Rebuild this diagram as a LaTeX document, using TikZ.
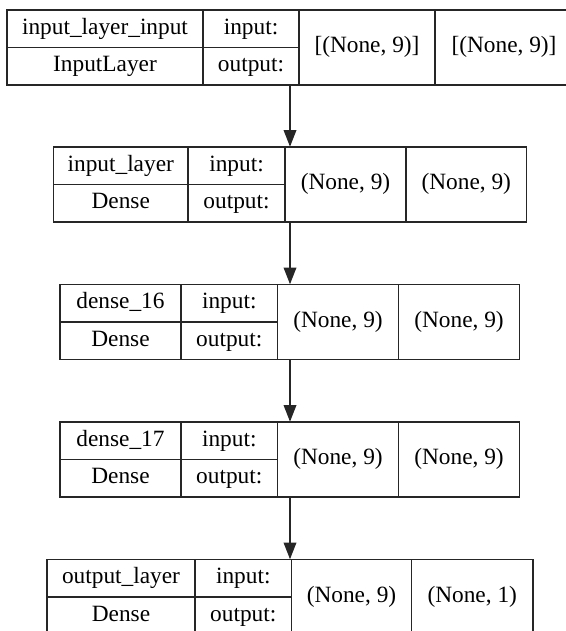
\documentclass[tikz,border=0pt]{standalone}
\usepackage{fontspec}
\setmainfont{Liberation Serif}
\usetikzlibrary{arrows.meta}

\tikzset{
  cell/.style={draw=black!85, line width=1pt, inner sep=0pt, outer sep=0pt,
               text height=11.8pt, text depth=3.6pt},
  flow/.style={draw=black!85, line width=1pt, -{Triangle[length=12.5pt,width=9.5pt]}}
}

\begin{document}
\begin{tikzpicture}[x=0.75pt, y=-0.75pt, font=\fontsize{17.5}{20}\selectfont]
\useasboundingbox (0,0) rectangle (566,631);
% one row of cells per layer: name/type, input/output, shapes
\foreach \n/\ytop/\xa/\xb/\xc/\xd/\xe/\lname/\ltype/\shin/\shout in {
    1/10/7/203/299/435/573/input\_layer\_input/InputLayer/{[(None, 9)]}/{[(None, 9)]},
    2/147/53.5/188/285/406/526.5/input\_layer/Dense/{(None, 9)}/{(None, 9)},
    3/284.5/60/181/277.5/398.5/519.5/dense\_16/Dense/{(None, 9)}/{(None, 9)},
    4/422/60/181/277.5/398.5/519.5/dense\_17/Dense/{(None, 9)}/{(None, 9)},
    5/559.5/47/195/291.5/411.5/533/output\_layer/Dense/{(None, 9)}/{(None, 1)}}
{
    \node [minimum width={(\xe-\xa)*0.75pt}, minimum height=56.25pt, inner sep=0pt] (layer\n) at (290,{\ytop+37.5}) {};
    \node [cell, minimum width={(\xb-\xa)*0.75pt}, minimum height=28.125pt] (name\n) at ({(\xa+\xb)/2},{\ytop+18.75}) {\lname};
    \node [cell, minimum width={(\xb-\xa)*0.75pt}, minimum height=28.125pt] (type\n) at ({(\xa+\xb)/2},{\ytop+56.25}) {\ltype};
    \node [cell, minimum width={(\xc-\xb)*0.75pt}, minimum height=28.125pt] (in\n) at ({(\xb+\xc)/2},{\ytop+18.75}) {input:};
    \node [cell, minimum width={(\xc-\xb)*0.75pt}, minimum height=28.125pt] (out\n) at ({(\xb+\xc)/2},{\ytop+56.25}) {output:};
    \node [cell, minimum width={(\xd-\xc)*0.75pt}, minimum height=56.25pt] (shapein\n) at ({(\xc+\xd)/2},{\ytop+37.5}) {\shin};
    \node [cell, minimum width={(\xe-\xd)*0.75pt}, minimum height=56.25pt] (shapeout\n) at ({(\xd+\xe)/2},{\ytop+37.5}) {\shout};
}
\foreach \a/\b in {1/2,2/3,3/4,4/5}
    \draw [flow] (layer\a) -- (layer\b);
\end{tikzpicture}
\end{document}
